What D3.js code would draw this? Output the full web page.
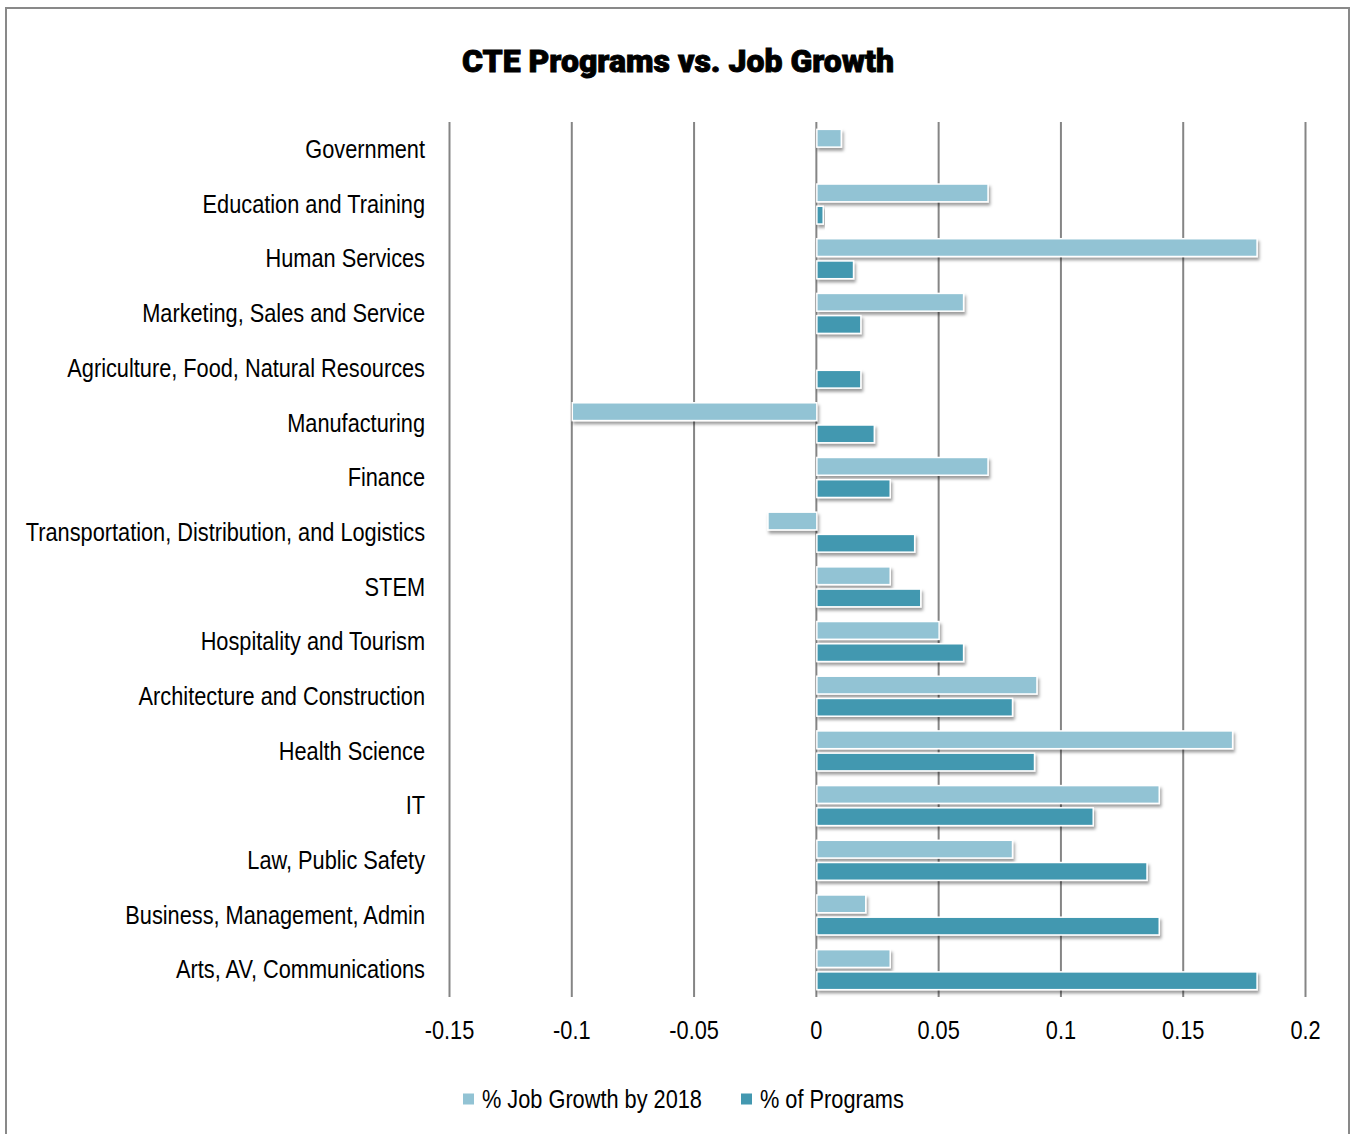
<!DOCTYPE html>
<html>
<head>
<meta charset="utf-8">
<script src="https://cdn.jsdelivr.net/npm/d3@7"></script>
<style>
  html, body { margin: 0; padding: 0; background: #fff; }
  svg { display: block; }
  .lbl { font-family: "Liberation Sans", Arial, sans-serif; fill: #000; }
</style>
</head>
<body>
<script>
// CTE career clusters, top to bottom
const categories = [
  "Government",
  "Education and Training",
  "Human Services",
  "Marketing, Sales and Service",
  "Agriculture, Food, Natural Resources",
  "Manufacturing",
  "Finance",
  "Transportation, Distribution, and Logistics",
  "STEM",
  "Hospitality and Tourism",
  "Architecture and Construction",
  "Health Science",
  "IT",
  "Law, Public Safety",
  "Business, Management, Admin",
  "Arts, AV, Communications"
];

// Projected job growth by 2018 (fraction)
const jobGrowth = [0.01, 0.07, 0.18, 0.06, 0, -0.10, 0.07, -0.02, 0.03, 0.05, 0.09, 0.17, 0.14, 0.08, 0.02, 0.03];

// Share of CTE programs (fraction)
const programShare = [0, 0.0026, 0.015, 0.018, 0.018, 0.0235, 0.030, 0.040, 0.0425, 0.060, 0.080, 0.089, 0.113, 0.135, 0.140, 0.180];

const seriesNames = ["% Job Growth by 2018", "% of Programs"];
const seriesColors = ["#92c3d4", "#4398b0"];
const tickValues = [-0.15, -0.1, -0.05, 0, 0.05, 0.1, 0.15, 0.2];

const W = 1352, H = 1134;
const narrow = "scale(0.87,1)";   // condensed look for the label face
const svg = d3.select("body").append("svg").attr("width", W).attr("height", H);

const defs = svg.append("defs");
const shadow = defs.append("filter").attr("id", "barShadow")
  .attr("x", "-10%").attr("y", "-40%").attr("width", "130%").attr("height", "200%");
shadow.append("feDropShadow")
  .attr("dx", 1.5).attr("dy", 3).attr("stdDeviation", 1.8)
  .attr("flood-color", "#000").attr("flood-opacity", 0.38);

// Outer frame
svg.append("rect").attr("x", 6).attr("y", 8).attr("width", 1343).attr("height", 1140)
  .attr("fill", "#fff").attr("stroke", "#898989").attr("stroke-width", 2);

// Title
svg.append("text")
  .attr("x", 678).attr("y", 72).attr("text-anchor", "middle")
  .style("font-family", "Roboto, Inter, 'DejaVu Sans', sans-serif")
  .style("font-weight", 900).style("font-size", "32px")
  .attr("stroke", "#000").attr("stroke-width", 0.9)
  .text("CTE Programs vs. Job Growth");

const plotTop = 122, plotBottom = 997;
const x = d3.scaleLinear().domain([-0.15, 0.2]).range([449, 1305]);
const y0 = d3.scaleBand().domain(categories).range([plotTop, plotBottom]).padding(0);
const groupH = 40;
const y1 = d3.scaleBand().domain(seriesNames)
  .range([(y0.bandwidth() - groupH) / 2, (y0.bandwidth() + groupH) / 2]).paddingInner(0.2);

// Vertical gridlines and value labels
const xAxis = d3.axisBottom(x).tickValues(tickValues)
  .tickSize(-(plotBottom - plotTop)).tickFormat(d => String(+d.toFixed(2)));
const gx = svg.append("g").attr("transform", `translate(0,${plotBottom})`).call(xAxis);
gx.select(".domain").remove();
gx.selectAll(".tick line").attr("stroke", "#858585").attr("stroke-width", 2);
gx.selectAll(".tick text")
  .attr("class", "lbl").attr("dy", 0).attr("y", 42)
  .attr("transform", narrow)
  .style("font-size", "25px").attr("fill", "#000");

// Category labels
const gy = svg.append("g").attr("transform", "translate(425,0)")
  .call(d3.axisLeft(y0).tickSize(0).tickPadding(0));
gy.select(".domain").remove();
gy.selectAll(".tick text")
  .attr("class", "lbl").style("font-size", "25px").attr("fill", "#000")
  .attr("x", 0).attr("dy", "0.35em").attr("transform", narrow);

// Bars
const rows = categories.map((c, i) => ({
  cat: c,
  vals: [
    { s: seriesNames[0], v: jobGrowth[i], c: seriesColors[0] },
    { s: seriesNames[1], v: programShare[i], c: seriesColors[1] }
  ]
}));

svg.append("g").selectAll("g").data(rows).join("g")
  .attr("transform", d => `translate(0,${y0(d.cat)})`)
  .selectAll("rect").data(d => d.vals.filter(e => e.v !== 0)).join("rect")
  .attr("x", d => x(Math.min(0, d.v)) + 1)
  .attr("width", d => Math.abs(x(d.v) - x(0)))
  .attr("y", d => y1(d.s))
  .attr("height", y1.bandwidth())
  .attr("fill", d => d.c)
  .attr("stroke", "#fff").attr("stroke-width", 1.5)
  .attr("filter", "url(#barShadow)");

// Legend
const legend = svg.append("g").attr("transform", "translate(463,1099)");
const legendX = [0, 278];
seriesNames.forEach((name, i) => {
  const g = legend.append("g").attr("transform", `translate(${legendX[i]},0)`);
  g.append("rect").attr("x", 0).attr("y", -5.5).attr("width", 11).attr("height", 11).attr("fill", seriesColors[i]);
  g.append("g").attr("transform", "translate(19,0) " + narrow)
    .append("text").attr("class", "lbl").attr("dy", "0.35em")
    .style("font-size", "25px").text(name);
});
</script>
</body>
</html>
